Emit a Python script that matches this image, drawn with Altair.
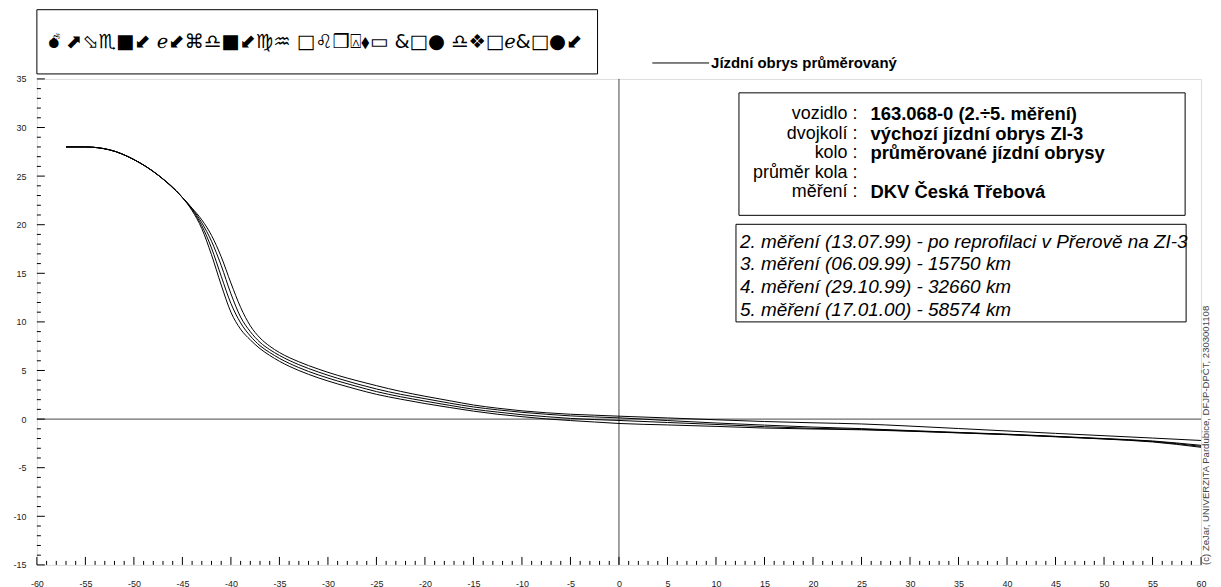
import altair as alt
import pandas as pd

# ---------------- data ----------------
X = [-57, -55, -52.5, -50, -47.5, -45, -44, -43, -42, -41, -40, -39, -38, -37, -36, -35,
     -33, -31, -29, -27, -25, -22.5, -20, -17.5, -15, -12.5, -10, -7.5, -5, -2.5, 0,
     5, 10, 15, 20, 25, 30, 35, 40, 45, 50, 55, 60]

M2 = [28.0, 28.0, 27.7, 26.7, 25.1, 22.8, 21.7, 20.5, 18.9, 16.7, 14.0, 11.5, 9.6, 8.35, 7.5, 6.85,
      5.9, 5.15, 4.5, 3.95, 3.44, 2.85, 2.35, 1.9, 1.45, 1.12, 0.85, 0.65, 0.5, 0.4, 0.3,
      0.12, -0.07, -0.25, -0.38, -0.5, -0.72, -0.97, -1.22, -1.47, -1.71, -1.95, -2.2]
M3 = [28.0, 28.0, 27.7, 26.7, 25.1, 22.8, 21.65, 20.2, 18.3, 15.8, 12.9, 10.5, 9.0, 7.9, 7.15, 6.55,
      5.6, 4.85, 4.2, 3.62, 3.1, 2.55, 2.1, 1.65, 1.25, 0.95, 0.7, 0.5, 0.33, 0.22, 0.13,
      -0.15, -0.4, -0.62, -0.82, -0.98, -1.18, -1.37, -1.55, -1.77, -2.0, -2.25, -2.7]
M4 = [28.0, 28.0, 27.7, 26.7, 25.1, 22.8, 21.55, 19.9, 17.6, 14.7, 11.9, 9.9, 8.55, 7.55, 6.85, 6.25,
      5.3, 4.55, 3.92, 3.36, 2.83, 2.3, 1.85, 1.42, 1.02, 0.72, 0.45, 0.25, 0.07, -0.05, -0.14,
      -0.35, -0.55, -0.78, -0.95, -1.05, -1.22, -1.4, -1.58, -1.8, -2.03, -2.3, -2.8]
M5 = [28.0, 28.0, 27.7, 26.7, 25.1, 22.8, 21.45, 19.6, 16.9, 13.8, 11.0, 9.25, 8.15, 7.25, 6.55, 5.95,
      5.0, 4.25, 3.62, 3.06, 2.55, 2.05, 1.6, 1.2, 0.82, 0.5, 0.25, 0.02, -0.15, -0.3, -0.45,
      -0.6, -0.75, -0.92, -1.02, -1.1, -1.25, -1.42, -1.6, -1.82, -2.05, -2.35, -2.9]

SERIES = ["2. měření", "3. měření", "4. měření", "5. měření"]

X_LABELS = list(range(-60, 61, 5))
Y_LABELS = list(range(-15, 36, 5))
X_TICKS = list(range(-60, 61))
Y_TICKS = list(range(-15, 36))

TITLE = "💣\ufe0e ⬈⬂♏■⬋ ℯ⬋⌘♎■⬋♍♒ □♌❒⍓⬧▭ &□● ♎❖□ℯ&□●⬋"
LEGEND = "Jízdní obrys průměrovaný"
INFO_LABELS = ["vozidlo :", "dvojkolí :", "kolo :", "průměr kola :", "měření :"]
INFO_VALUES = ["163.068-0 (2.÷5. měření)", "výchozí jízdní obrys  ZI-3",
               "průměrované jízdní obrysy"]
INFO_PLACE = "DKV Česká Třebová"
LIST_LINES = ["2. měření (13.07.99) - po reprofilaci v Přerově na ZI-3",
              "3. měření (06.09.99) - 15750 km",
              "4. měření (29.10.99) - 32660 km",
              "5. měření (17.01.00) - 58574 km"]
COPYRIGHT = "(c) ZeJar, UNIVERZITA Pardubice, DFJP-DPČT, 2303001108"

# ---------------- tables ----------------
rows = []
for name, ys in zip(SERIES, [M2, M3, M4, M5]):
    for xv, yv in zip(X, ys):
        rows.append({"serie": name, "x": xv, "y": yv})
df = pd.DataFrame(rows)

W, H = 1169, 488
FONT = "Liberation Sans"
LH = 19.5
one = pd.DataFrame({"k": [0]})
zero = pd.DataFrame({"v": [0]})
xt = pd.DataFrame({"p": X_TICKS})
yt = pd.DataFrame({"p": Y_TICKS})

xscale = alt.Scale(domain=[-60, 60], nice=False, zero=False)
yscale = alt.Scale(domain=[-15, 35], nice=False, zero=False)

axis_common = dict(title=None, ticks=False, domain=False, grid=False, labelFontSize=9,
                   labelFont=FONT, labelColor="#222", labelOverlap=False,
                   labelExpr="'' + datum.value")

curves = alt.Chart(df).mark_line(color="black", strokeWidth=1, interpolate="monotone").encode(
    x=alt.X("x:Q", scale=xscale,
            axis=alt.Axis(values=X_LABELS, labelPadding=15, labelFlush=False, **axis_common)),
    y=alt.Y("y:Q", scale=yscale,
            axis=alt.Axis(values=Y_LABELS, labelPadding=11, **axis_common)),
    detail="serie:N",
)

vzero = alt.Chart(zero).mark_rule(color="#444", strokeWidth=1).encode(x=alt.X("v:Q", scale=xscale))
hzero = alt.Chart(zero).mark_rule(color="#444", strokeWidth=1).encode(y=alt.Y("v:Q", scale=yscale))

xminor = alt.Chart(xt).transform_filter("datum.p % 5 != 0").mark_rule(color="black").encode(
    x=alt.X("p:Q", scale=xscale), y=alt.value(H), y2=alt.value(H - 4))
xmajor = alt.Chart(xt).transform_filter("datum.p % 5 == 0").mark_rule(color="black").encode(
    x=alt.X("p:Q", scale=xscale), y=alt.value(H), y2=alt.value(H - 8))
yminor = alt.Chart(yt).transform_filter("datum.p % 5 != 0").mark_rule(color="black").encode(
    y=alt.Y("p:Q", scale=yscale), x=alt.value(0), x2=alt.value(4))
ymajor = alt.Chart(yt).transform_filter("datum.p % 5 == 0").mark_rule(color="black").encode(
    y=alt.Y("p:Q", scale=yscale), x=alt.value(0), x2=alt.value(8))


def box(x1, x2, y1, y2):
    return alt.Chart(one).mark_rect(fill="white", stroke="black", strokeWidth=1).encode(
        x=alt.value(x1), x2=alt.value(x2), y=alt.value(y1), y2=alt.value(y2))


title_box = box(0, 563, -69.5, -5)
title_text = alt.Chart(one).mark_text(
    text=TITLE, align="left", baseline="middle", fontSize=19.5, font="DejaVu Sans",
    color="black").encode(x=alt.value(11), y=alt.value(-37))

legend_line = alt.Chart(one).mark_rule(color="black", strokeWidth=1).encode(
    x=alt.value(618), x2=alt.value(675), y=alt.value(-16))
legend_text = alt.Chart(one).mark_text(
    text=LEGEND, align="left", baseline="middle", fontSize=15, font=FONT,
    fontWeight="bold", color="black").encode(x=alt.value(677), y=alt.value(-16))

info_box = box(705, 1153, 14, 137)
info_labels = alt.Chart(one).mark_text(
    text=INFO_LABELS, align="right", baseline="middle", fontSize=18, lineHeight=LH,
    font=FONT, color="black").encode(x=alt.value(824), y=alt.value(35.6))
info_values = alt.Chart(one).mark_text(
    text=INFO_VALUES, align="left", baseline="middle", fontSize=18.5, lineHeight=LH,
    font=FONT, fontWeight="bold", color="black").encode(x=alt.value(837), y=alt.value(35.6))
info_place = alt.Chart(one).mark_text(
    text=INFO_PLACE, align="left", baseline="middle", fontSize=18.5,
    font=FONT, fontWeight="bold", color="black").encode(x=alt.value(837), y=alt.value(35.6 + 4 * LH))

list_box = box(702, 1154, 146, 244)
list_text = alt.Chart(one).mark_text(
    text=LIST_LINES, align="left", baseline="middle", fontSize=19, lineHeight=22.8,
    font=FONT, fontStyle="italic", color="black").encode(x=alt.value(706), y=alt.value(163.5))

copyright_text = alt.Chart(one).mark_text(
    text=COPYRIGHT, align="left", baseline="middle", angle=270, fontSize=9.6,
    font=FONT, color="#444").encode(x=alt.value(1174), y=alt.value(H))

chart = alt.layer(
    vzero, hzero, curves, xminor, xmajor, yminor, ymajor,
    title_box, title_text, legend_line, legend_text,
    info_box, info_labels, info_values, info_place, list_box, list_text, copyright_text,
).properties(
    width=W, height=H,
    autosize=alt.AutoSizeParams(type="none"),
    padding={"left": 29, "top": 70, "right": 12, "bottom": 22},
).configure_view(stroke="black", strokeWidth=1).configure(background="white")

chart.save("out.html", embed_options={"renderer": "svg", "actions": False})
